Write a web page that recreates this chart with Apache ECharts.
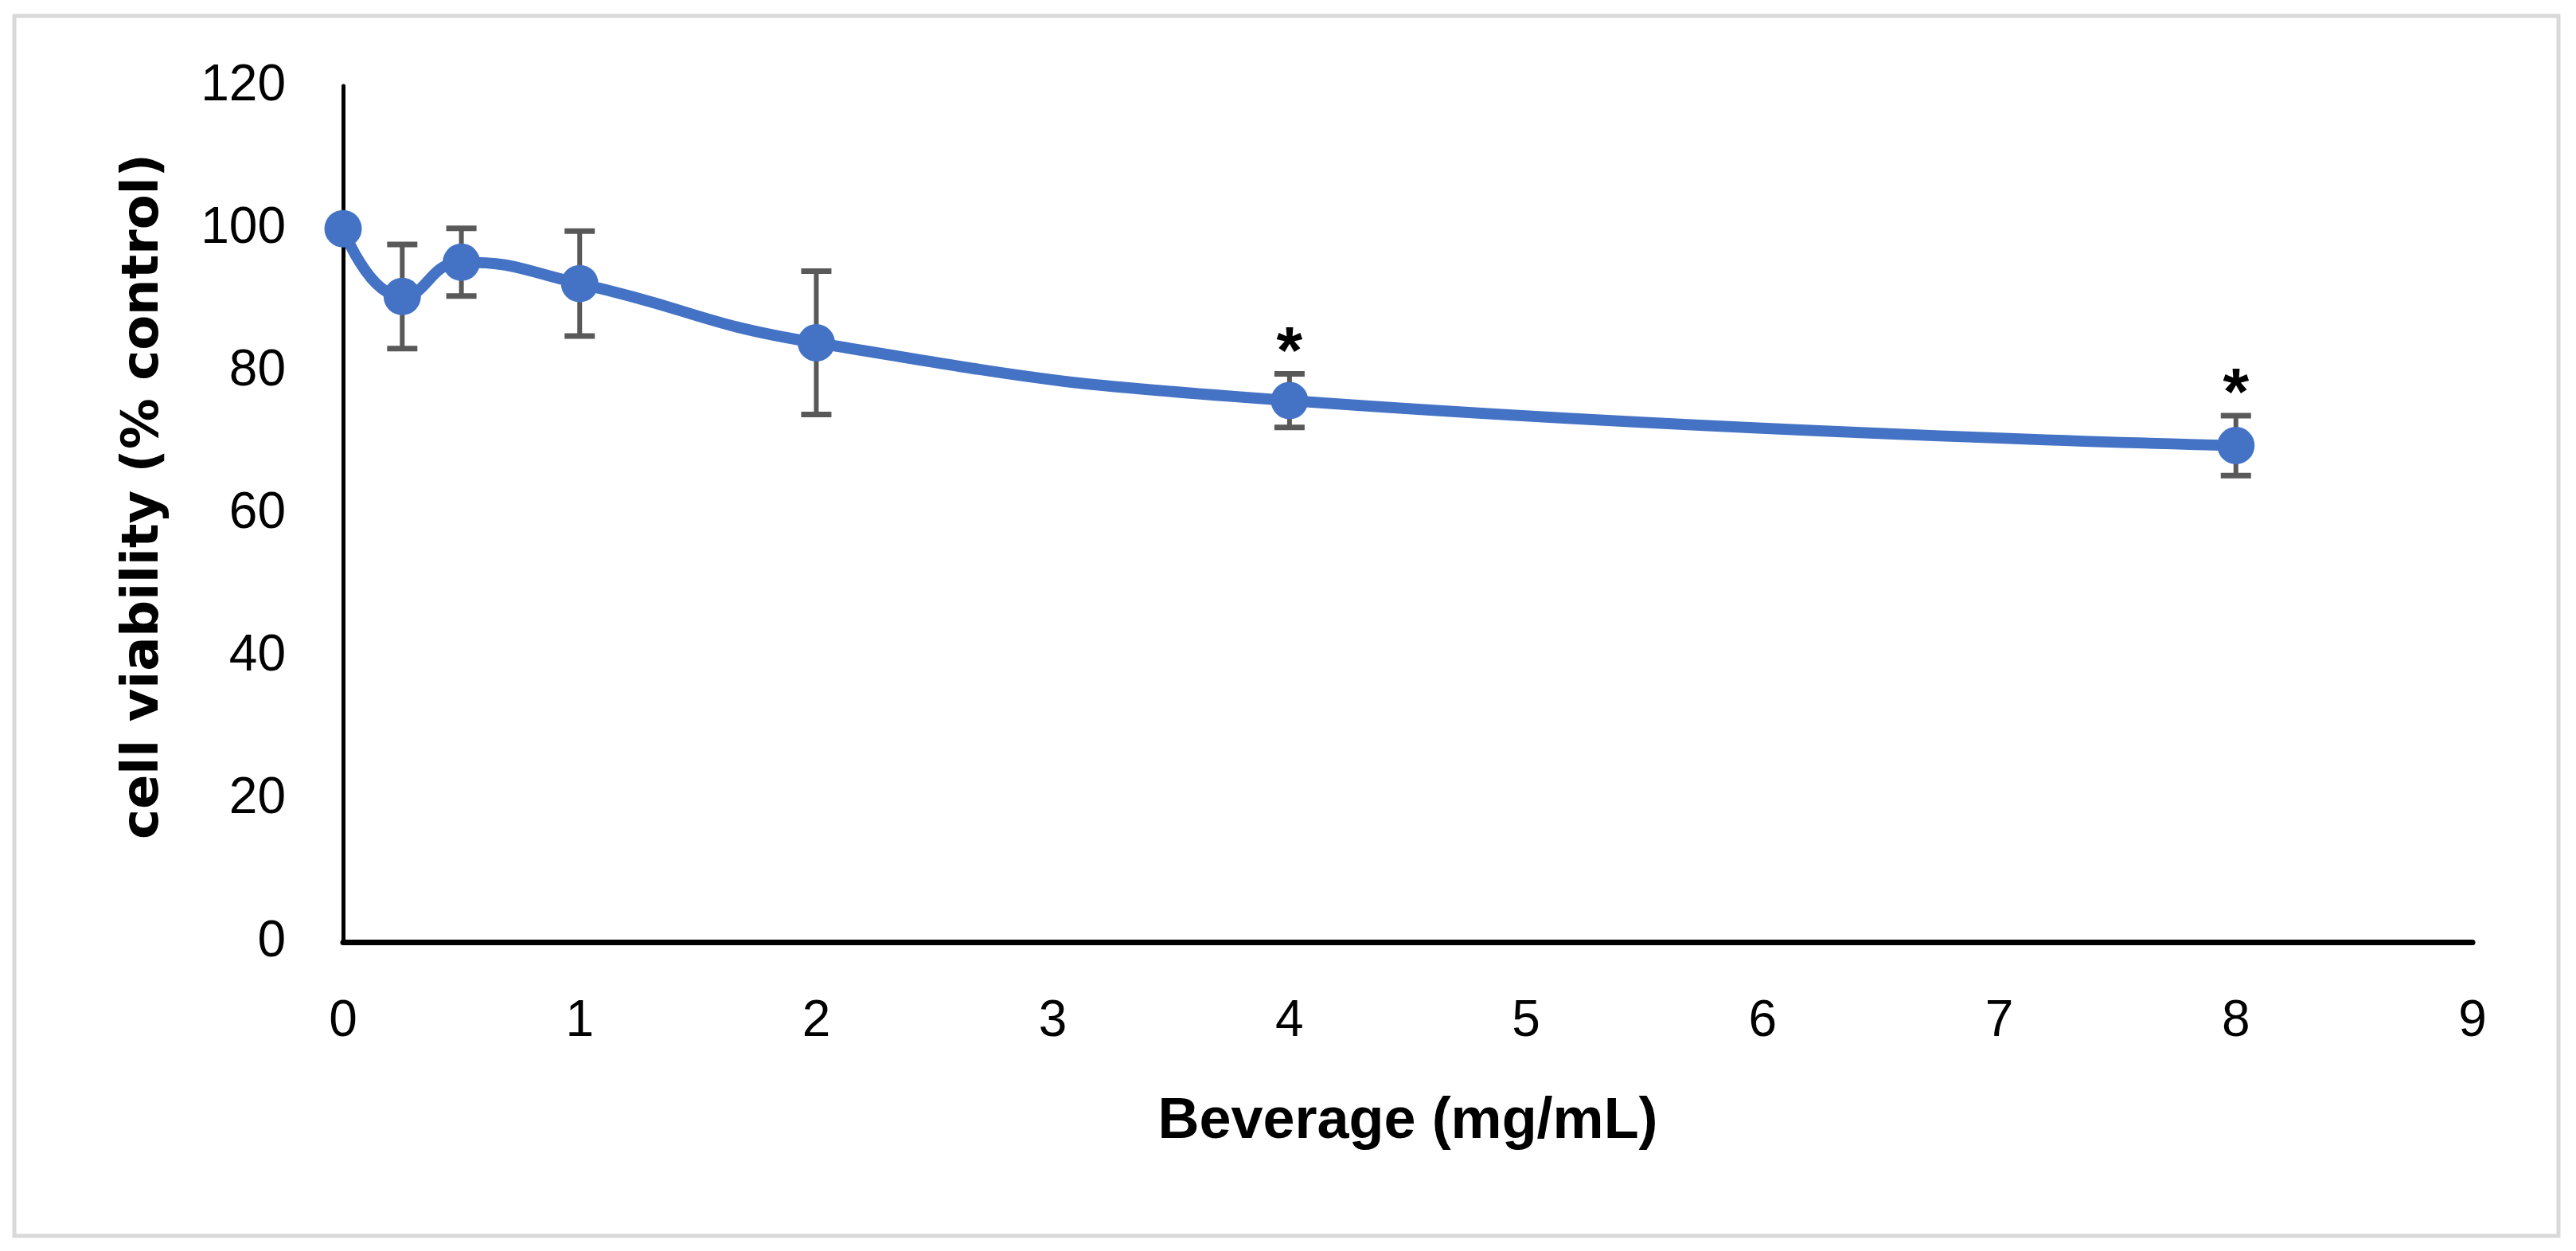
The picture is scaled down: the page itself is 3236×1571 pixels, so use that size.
<!DOCTYPE html>
<html>
<head>
<meta charset="utf-8">
<script src="https://cdn.jsdelivr.net/npm/echarts@6/dist/echarts.min.js"></script>
<style>
html,body{margin:0;padding:0;background:#fff;}
#chart{width:3236px;height:1571px;}
</style>
</head>
<body>
<div id="chart"></div>
<script>
// ---- data ----
const concentrations = [0, 0.25, 0.5, 1, 2, 4, 8];          // Beverage (mg/mL)
const viability      = [100, 90.5, 95.3, 92.3, 84.0, 75.9, 69.6]; // % control
const stdErr         = [0, 7.3, 4.75, 7.35, 10.05, 3.75, 4.2];
const significance   = ['', '', '', '', '', '*', '*'];
const xTicks = [0, 1, 2, 3, 4, 5, 6, 7, 8, 9];
const yTicks = [0, 20, 40, 60, 80, 100, 120];

const lineData = concentrations.map((c, i) => [c, viability[i]]);
const errData = concentrations.map((c, i) => [c, viability[i] - stdErr[i], viability[i] + stdErr[i], significance[i]]);

const chart = echarts.init(document.getElementById('chart'));
const tickFont = {fontFamily: 'Liberation Sans', fontSize: 64, color: '#000'};

chart.setOption({
  backgroundColor: '#ffffff',
  animation: false,
  graphic: [{
    type: 'rect',
    shape: {x: 18, y: 20, width: 3196, height: 1532},
    style: {fill: 'none', stroke: '#d9d9d9', lineWidth: 5},
    silent: true, z: -10
  }],
  grid: {left: 431, right: 130, top: 108, bottom: 388},
  xAxis: {
    type: 'value',
    min: xTicks[0], max: xTicks[xTicks.length - 1], interval: 1,
    name: 'Beverage (mg/mL)',
    nameLocation: 'middle',
    nameGap: 190,
    nameTextStyle: {fontFamily: 'Liberation Sans', fontWeight: 'bold', fontSize: 72, color: '#000'},
    axisLine: {lineStyle: {color: '#000', width: 7}},
    axisTick: {show: false},
    splitLine: {show: false},
    axisLabel: Object.assign({margin: 68}, tickFont)
  },
  yAxis: {
    type: 'value',
    min: yTicks[0], max: yTicks[yTicks.length - 1], interval: 20,
    name: 'cell viability (% control)',
    nameLocation: 'middle',
    nameGap: 218,
    nameRotate: 90,
    nameTextStyle: {fontFamily: 'DejaVu Sans', fontWeight: 'bold', fontSize: 64, color: '#000', padding: [0, 0, 0, 44]},
    axisLine: {show: true, lineStyle: {color: '#000', width: 5}},
    axisTick: {show: false},
    splitLine: {show: false},
    axisLabel: Object.assign({margin: 72}, tickFont)
  },
  series: [
    {
      type: 'custom',
      name: 'error',
      z: 1,
      data: errData,
      renderItem: function (params, api) {
        const x = api.value(0);
        const lo = api.coord([x, api.value(1)]);
        const hi = api.coord([x, api.value(2)]);
        const sig = api.value(3);
        const cap = 19;
        const st = {stroke: '#595959', lineWidth: 7};
        const children = [];
        if (hi[1] < lo[1] - 1) {
          children.push(
            {type: 'line', shape: {x1: lo[0], y1: lo[1], x2: hi[0], y2: hi[1]}, style: {stroke: '#595959', lineWidth: 6}},
            {type: 'line', shape: {x1: hi[0] - cap, y1: hi[1], x2: hi[0] + cap, y2: hi[1]}, style: st},
            {type: 'line', shape: {x1: lo[0] - cap, y1: lo[1], x2: lo[0] + cap, y2: lo[1]}, style: st}
          );
        }
        if (sig && String(sig).trim() !== '') {
          children.push({
            type: 'text',
            style: {
              text: String(sig), x: hi[0], y: hi[1] + 18,
              textAlign: 'center', textVerticalAlign: 'bottom',
              font: 'bold 84px "Liberation Sans"', fill: '#000'
            }
          });
        }
        return {type: 'group', children: children};
      }
    },
    {
      type: 'line',
      name: 'viability',
      z: 3,
      data: lineData,
      smooth: 0.5,
      symbol: 'circle',
      symbolSize: 47,
      lineStyle: {color: '#4472C4', width: 14},
      itemStyle: {color: '#4472C4'}
    }
  ]
});
</script>
</body>
</html>
